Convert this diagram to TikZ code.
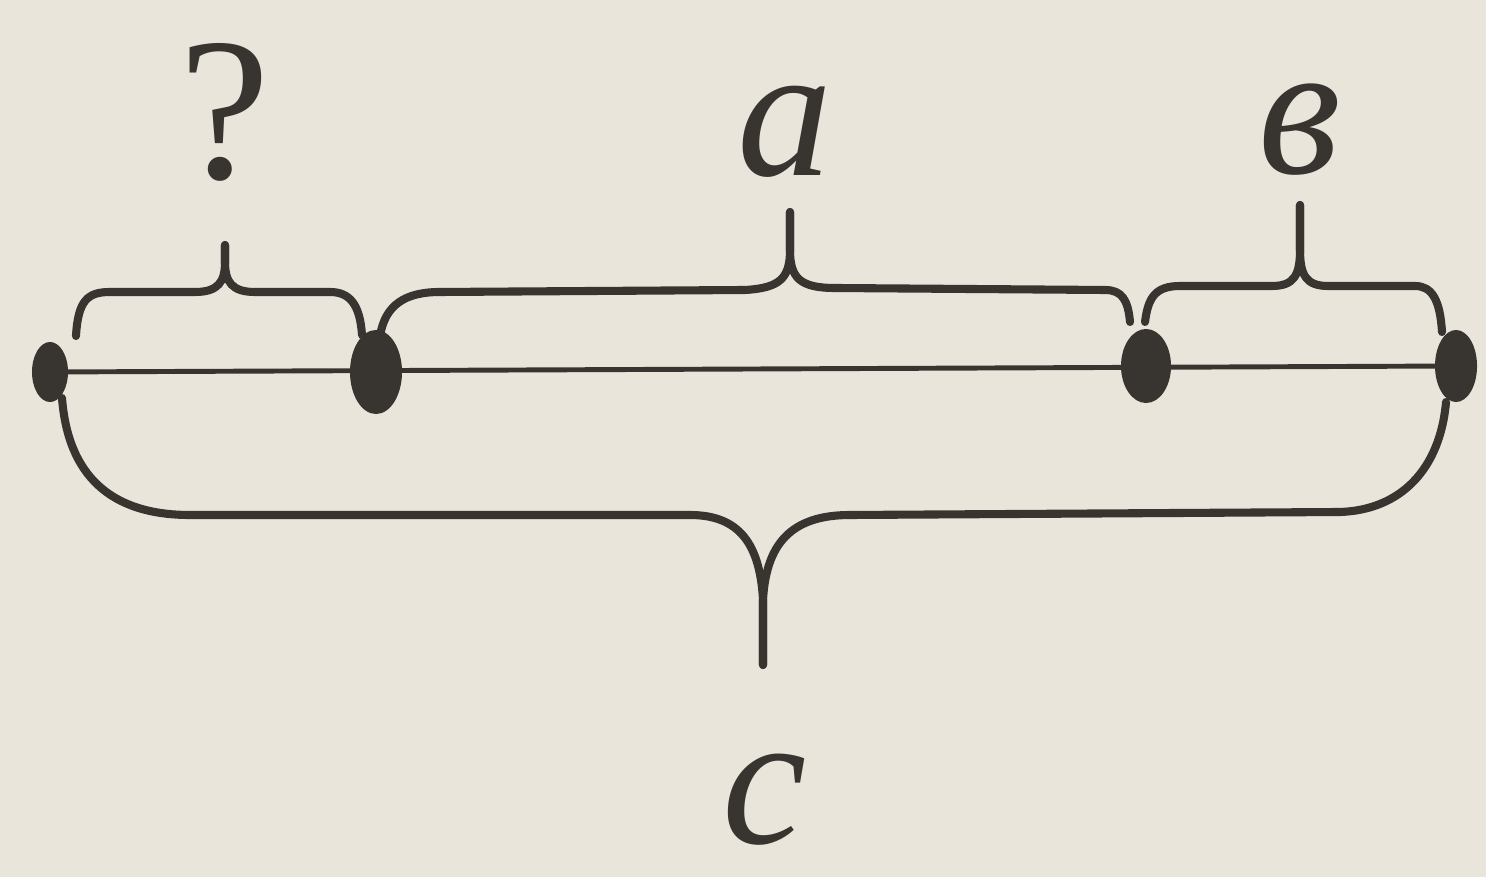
\documentclass[tikz,border=0pt]{standalone}
\usepackage{fontspec}
\newfontfamily\labelfont{Liberation Serif}
\usetikzlibrary{shapes.geometric}
\definecolor{paper}{RGB}{234,229,219}
\definecolor{ink}{RGB}{56,52,48}
\tikzset{
  segline/.style={draw=ink,line width=1.4pt},
  bracepath/.style={draw=ink,line width=2.3pt,line cap=round,line join=round},
  dotmark/.style={ellipse,fill=ink,inner sep=0pt},
  seglabel/.style={font=\labelfont\itshape\fontsize{54}{60}\selectfont,text=ink,inner sep=0pt}
}

\begin{document}
\begin{tikzpicture}[x=0.01cm,y=-0.01cm]
  \fill[paper] (0,0) rectangle (1486,877);
  \useasboundingbox (0,0) rectangle (1486,877);

  % points on the segment
  \node[dotmark,minimum width=0.36cm,minimum height=0.6cm] (p0) at (50,372) {};
  \node[dotmark,minimum width=0.52cm,minimum height=0.84cm] (p1) at (376,372) {};
  \node[dotmark,minimum width=0.5cm,minimum height=0.74cm] (p2) at (1146,366) {};
  \node[dotmark,minimum width=0.42cm,minimum height=0.72cm] (p3) at (1456,366) {};
  \draw[segline] (p0.center) -- (p3.center);

  % braces
  \coordinate (qtip) at (225,245);
  \coordinate (atip) at (790,212);
  \coordinate (btip) at (1300,205);
  \coordinate (ctip) at (763,665);
  \draw[bracepath] (76,336) .. controls (78,300) and (88,292) .. (110,292) -- (195,292)
    .. controls (218,292) and (225,282) .. (225,262) -- (qtip);
  \draw[bracepath] (qtip) -- (225,262) .. controls (225,282) and (232,292) .. (255,292)
    -- (330,292) .. controls (350,292) and (360,305) .. (362,335);
  \draw[bracepath] (380,336) .. controls (385,305) and (405,292) .. (440,292) -- (745,290)
    .. controls (780,288) and (790,278) .. (790,250) -- (atip);
  \draw[bracepath] (atip) -- (790,250) .. controls (790,278) and (800,288) .. (835,288)
    -- (1105,290) .. controls (1122,290) and (1128,300) .. (1130,322);
  \draw[bracepath] (1145,322) .. controls (1148,298) and (1155,286) .. (1180,286) -- (1272,286)
    .. controls (1294,286) and (1300,275) .. (1300,250) -- (btip);
  \draw[bracepath] (btip) -- (1300,250) .. controls (1300,275) and (1306,286) .. (1328,286)
    -- (1415,286) .. controls (1432,286) and (1440,300) .. (1442,332);
  \draw[bracepath] (62,398) .. controls (68,475) and (110,515) .. (190,515) -- (690,515)
    .. controls (740,515) and (760,545) .. (763,600) -- (ctip);
  \draw[bracepath] (ctip) -- (763,600) .. controls (766,545) and (790,515) .. (850,515)
    -- (1340,512) .. controls (1400,510) and (1440,470) .. (1446,402);

  % labels
  \node[seglabel,font=\labelfont\fontsize{58}{64}\selectfont] (qlab) at (225,112) {?};
  \node[seglabel] (alab) at (785,132) {а};
  \node[seglabel] (blab) at (1300,130) {в};
  \node[seglabel] (clab) at (765,800) {с};
\end{tikzpicture}
\end{document}
